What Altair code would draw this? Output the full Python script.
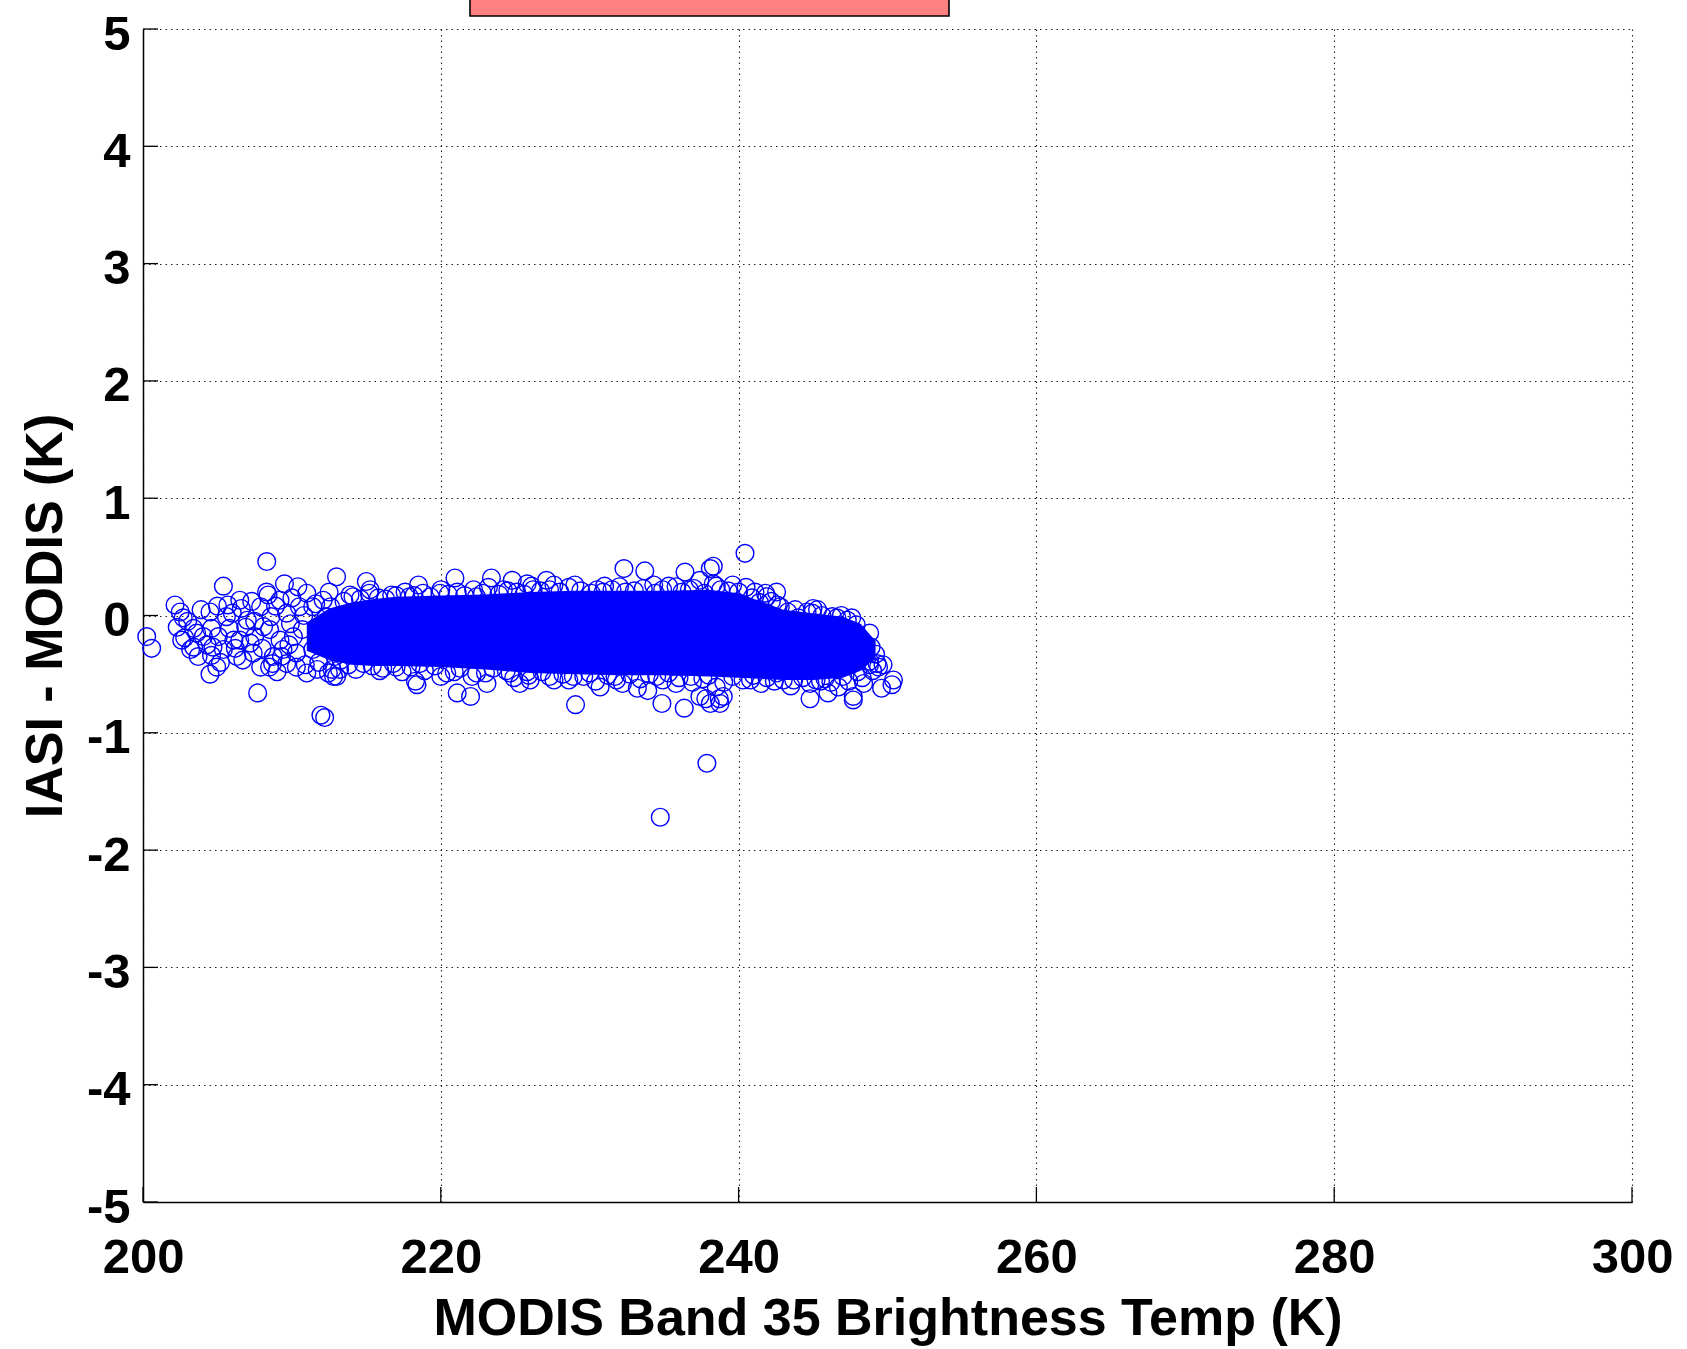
import altair as alt
import pandas as pd

# Brightness temperature (K) and IASI - MODIS difference (K) of the scattered samples
bt = [
    200.25, 200.58, 202.15, 202.6, 202.7, 202.8, 203.2, 203.4, 204.05, 204.5,
    204.5, 204.6, 204.6, 205.06, 205.4, 205.4, 205.6, 205.8, 206.1, 206.5,
    206.7, 207.2, 207.7, 207.9, 207.9, 208.31, 208.4, 208.5, 208.6, 209.0,
    209.2, 209.5, 209.65, 209.9, 210.3, 210.4, 211.0, 211.0, 211.4, 211.95,
    212.2, 212.1, 212.3, 212.45, 213.0,
    202.5, 203.6, 204.95, 206.5, 206.3, 207.0, 206.6, 205.7, 204.7, 207.4, 203.4,
    208.3, 209.2, 208.1, 207.5, 208.75, 209.4, 210.1, 210.5, 209.65, 208.5,
    210.3, 211.7, 211.4, 212.7, 213.0,
    203.0, 203.9, 204.3, 205.2, 206.0, 206.9, 207.5, 208.0, 208.9, 209.3,
    210.0, 210.7, 210.9, 211.6, 211.8, 212.5, 212.9, 209.8, 210.8, 208.7,
    207.3, 206.2, 205.0, 203.7, 202.3,
    215.0, 215.25, 216.7, 218.5, 220.95, 223.4, 224.8, 217.9, 219.95, 222.2,
    224.2, 213.9, 212.6,
    213.2, 212.8, 216.1, 218.3, 218.4, 221.1, 222.0, 223.1, 225.3, 218.6,
    220.4, 222.4, 224.65, 225.8, 214.8, 217.0,
    232.3, 233.7, 236.4, 238.1, 225.8, 227.1, 227.6, 229.0, 234.3, 237.4,
    226.2, 230.5, 232.0, 235.8, 238.3,
    229.05, 234.85, 236.35, 226.0, 228.6, 230.7, 233.2, 233.9, 237.4, 238.1,
    238.5, 235.8, 231.8, 227.3, 229.6, 234.5, 237.8, 238.7,
    237.87, 234.74,
    240.43, 238.3, 239.6, 242.55, 241.8, 242.8, 245.0, 244.0, 246.6, 247.9,
    248.8, 248.5, 248.9, 249.3, 249.4, 250.4, 250.3, 249.6, 248.4, 247.7,
    247.7, 246.0, 244.8, 246.7, 248.8, 249.7, 238.97, 238.75, 240.8, 242.55,
    243.7, 245.5, 244.95,
    213.5, 214.6, 215.8, 217.0, 218.2, 219.3, 220.5, 221.6, 222.8, 223.9,
    225.1, 226.7, 228.0, 229.4, 230.9, 231.5, 233.0, 234.9, 236.2, 237.0,
    238.8, 240.0, 240.9, 241.4, 242.2, 243.3, 245.6, 246.3, 247.3,
    214.1, 215.2, 216.3, 217.6, 218.8, 220.0, 221.1, 222.4, 223.2, 224.5,
    225.6, 226.1, 227.3, 228.6, 230.1, 231.0, 232.4, 233.6, 234.4, 235.3,
    236.7, 237.7, 238.5, 239.3, 240.5, 241.1, 241.9, 242.6, 243.8, 244.6,
    245.3, 246.9, 247.6,
    213.8, 215.4, 216.8, 218.0, 219.6, 221.3, 223.5, 224.4, 226.8, 228.2,
    230.0, 231.2, 232.7, 234.0, 235.3, 236.8, 238.0, 239.6, 241.0, 241.9,
    243.0, 244.3, 245.8, 247.0, 248.0, 248.8,
    213.3, 214.3, 215.9, 217.4, 218.9, 220.0, 220.9, 222.1, 223.0, 224.9,
    225.9, 227.6, 228.9, 230.4, 231.7, 232.2, 233.4, 234.9, 236.0, 236.9,
    237.6, 239.0, 240.3, 241.5, 242.4, 243.5, 244.8, 245.2, 246.2, 247.4,
    248.3, 249.0, 249.2,
]
diff = [
    -0.18, -0.28, 0.09, -0.21, -0.02, -0.19, -0.29, -0.11, -0.18, 0.03,
    -0.50, -0.11, -0.34, -0.18, 0.25, -0.29, -0.01, -0.11, -0.21, 0.13,
    -0.38, -0.235, -0.66, 0.075, -0.44, 0.46, 0.175, -0.12, -0.01, -0.48,
    -0.21, 0.27, -0.41, -0.07, -0.32, 0.245, 0.19, -0.49, -0.29, -0.85,
    -0.87, 0.13, -0.01, -0.49, 0.33,
    0.03, -0.15, -0.44, -0.21, -0.35, -0.04, 0.06, 0.09, -0.27, -0.32, -0.27,
    0.20, 0.13, -0.095, -0.18, -0.35, -0.29, -0.18, 0.075, 0.02, -0.44,
    -0.44, -0.46, 0.075, -0.46, -0.52,
    -0.05, 0.05, -0.25, -0.40, 0.02, -0.10, -0.05, -0.28, 0.08, -0.35,
    0.15, -0.12, -0.42, 0.10, -0.40, 0.20, -0.35, -0.25, 0.00, -0.41,
    0.12, -0.28, 0.08, -0.35, -0.10,
    0.29, 0.22, 0.175, 0.26, 0.32, 0.32, 0.30, 0.16, 0.19, 0.22,
    0.22, 0.175, 0.075,
    -0.46, -0.52, -0.45, -0.56, -0.59, -0.66, -0.69, -0.58, -0.58, -0.41,
    -0.49, -0.49, -0.49, -0.48, -0.41, -0.44,
    0.40, 0.38, 0.37, 0.40, 0.27, 0.30, 0.26, 0.26, 0.26, 0.30,
    0.22, 0.22, 0.245, 0.245, 0.27,
    -0.76, -0.75, -0.79, -0.55, -0.55, -0.61, -0.62, -0.64, -0.69, -0.75,
    -0.61, -0.58, -0.55, -0.52, -0.52, -0.52, -0.71, -0.71,
    -1.26, -1.72,
    0.53, 0.42, 0.26, 0.20, 0.19, 0.075, 0.06, -0.02, -0.02, -0.08,
    -0.15, -0.24, -0.27, -0.41, -0.44, -0.55, -0.59, -0.62, -0.58, -0.69,
    -0.72, -0.66, -0.71, -0.61, -0.42, -0.42, -0.69, -0.75, -0.55, -0.49,
    -0.55, -0.56, 0.02,
    0.12, 0.14, 0.15, 0.17, 0.17, 0.16, 0.18, 0.17, 0.19, 0.18,
    0.20, 0.21, 0.20, 0.21, 0.20, 0.22, 0.21, 0.22, 0.20, 0.23,
    0.22, 0.20, 0.15, 0.11, 0.12, 0.03, 0.00, -0.01, -0.04,
    0.16, 0.19, 0.14, 0.20, 0.19, 0.22, 0.20, 0.16, 0.24, 0.21,
    0.18, 0.25, 0.22, 0.24, 0.19, 0.25, 0.20, 0.23, 0.19, 0.25,
    0.22, 0.19, 0.25, 0.21, 0.24, 0.20, 0.16, 0.09, 0.05, 0.03,
    0.05, 0.00, -0.02,
    -0.42, -0.43, -0.41, -0.44, -0.43, -0.45, -0.45, -0.47, -0.48, -0.50,
    -0.49, -0.51, -0.50, -0.50, -0.49, -0.52, -0.51, -0.52, -0.51, -0.53,
    -0.55, -0.53, -0.54, -0.52, -0.48, -0.39,
    -0.38, -0.46, -0.47, -0.48, -0.47, -0.52, -0.48, -0.52, -0.49, -0.53,
    -0.51, -0.55, -0.52, -0.56, -0.52, -0.58, -0.54, -0.55, -0.53, -0.57,
    -0.54, -0.57, -0.55, -0.58, -0.56, -0.60, -0.58, -0.55, -0.57, -0.56,
    -0.53, -0.47, -0.33,
]

# Envelope of the fully overplotted core of the cloud
core_bt = [211, 212.5, 214, 215.5, 217, 220, 223, 226, 229, 232, 235, 238, 240, 241.5, 243, 245, 247, 248.2, 249.2]
core_hi = [-0.06, 0.06, 0.11, 0.14, 0.16, 0.17, 0.18, 0.20, 0.21, 0.21, 0.21, 0.22, 0.19, 0.12, 0.05, 0.02, -0.01, -0.07, -0.22]
core_lo = [-0.30, -0.38, -0.42, -0.43, -0.43, -0.44, -0.46, -0.49, -0.50, -0.51, -0.51, -0.52, -0.53, -0.54, -0.55, -0.55, -0.53, -0.47, -0.36]

x_ticks = [200, 220, 240, 260, 280, 300]
y_ticks = [5, 4, 3, 2, 1, 0, -1, -2, -3, -4, -5]

W, H = 1489, 1173
BLUE = "#0000FF"
X_TITLE = "MODIS Band 35 Brightness Temp (K)"
Y_TITLE = "IASI - MODIS (K)"

xs = alt.Scale(domain=[200, 300], nice=False, zero=False)
ys = alt.Scale(domain=[-5, 5], nice=False, zero=False)

x_axis = alt.Axis(
    title=X_TITLE, values=x_ticks, grid=True, ticks=False, tickSize=0,
    labelPadding=70, labelBaseline="alphabetic", labelExpr="'' + datum.value",
    titleX=W / 2, titleY=132, titleBaseline="alphabetic", titleAlign="center",
)
y_axis = alt.Axis(
    title=Y_TITLE, values=y_ticks, grid=True, ticks=False, tickSize=0,
    labelPadding=13, labelOffset=5, labelExpr="'' + datum.value",
    titleAngle=270, titleX=-82, titleY=H / 2, titleBaseline="alphabetic", titleAlign="center",
)

pts = pd.DataFrame({"bt": bt, "diff": diff})
core = pd.DataFrame({"bt": core_bt, "hi": core_hi, "lo": core_lo})

core_layer = alt.Chart(core).mark_area(color=BLUE, opacity=1).encode(
    x=alt.X("bt:Q", scale=xs, axis=x_axis, title=X_TITLE),
    y=alt.Y("hi:Q", scale=ys, axis=y_axis, title=Y_TITLE),
    y2="lo:Q",
)

points = alt.Chart(pts).mark_point(
    shape="circle", filled=False, size=314, strokeWidth=1.4, color=BLUE, opacity=1
).encode(
    x=alt.X("bt:Q", scale=xs, axis=x_axis, title=X_TITLE),
    y=alt.Y("diff:Q", scale=ys, axis=y_axis, title=Y_TITLE),
)

# Inward tick marks along the bottom and left axes
xt = alt.Chart(pd.DataFrame({"bt": x_ticks})).mark_rule(color="black", strokeWidth=1.3).encode(
    x=alt.X("bt:Q", scale=xs, axis=x_axis, title=X_TITLE),
    y=alt.value(H), y2=alt.value(H - 15),
)
yt = alt.Chart(pd.DataFrame({"diff": y_ticks})).mark_rule(color="black", strokeWidth=1.3).encode(
    y=alt.Y("diff:Q", scale=ys, axis=y_axis, title=Y_TITLE),
    x=alt.value(0), x2=alt.value(15),
)

# Title box at the top edge
box = alt.Chart(pd.DataFrame({"k": [0]})).mark_rect(
    fill="#FF8080", stroke="black", strokeWidth=1.6
).encode(
    x=alt.value(327), x2=alt.value(806), y=alt.value(-40), y2=alt.value(-13),
)

chart = alt.layer(box, core_layer, points, xt, yt).properties(
    width=W, height=H,
    autosize=alt.AutoSizeParams(type="none"),
    padding={"left": 143, "top": 29, "right": 55, "bottom": 147},
    background="white",
).configure_view(strokeWidth=0).configure_axis(
    labelFont="Liberation Sans", labelFontWeight="bold", labelFontSize=49, labelColor="black",
    titleFont="Liberation Sans", titleFontWeight="bold", titleFontSize=52, titleColor="black",
    domainColor="black", domainWidth=1.5,
    gridColor="#222222", gridDash=[1.5, 4], gridWidth=1.1, gridOpacity=1,
    labelFlush=False, labelOverlap=False,
)

chart.save("out.html", embed_options={"renderer": "svg", "actions": False})
